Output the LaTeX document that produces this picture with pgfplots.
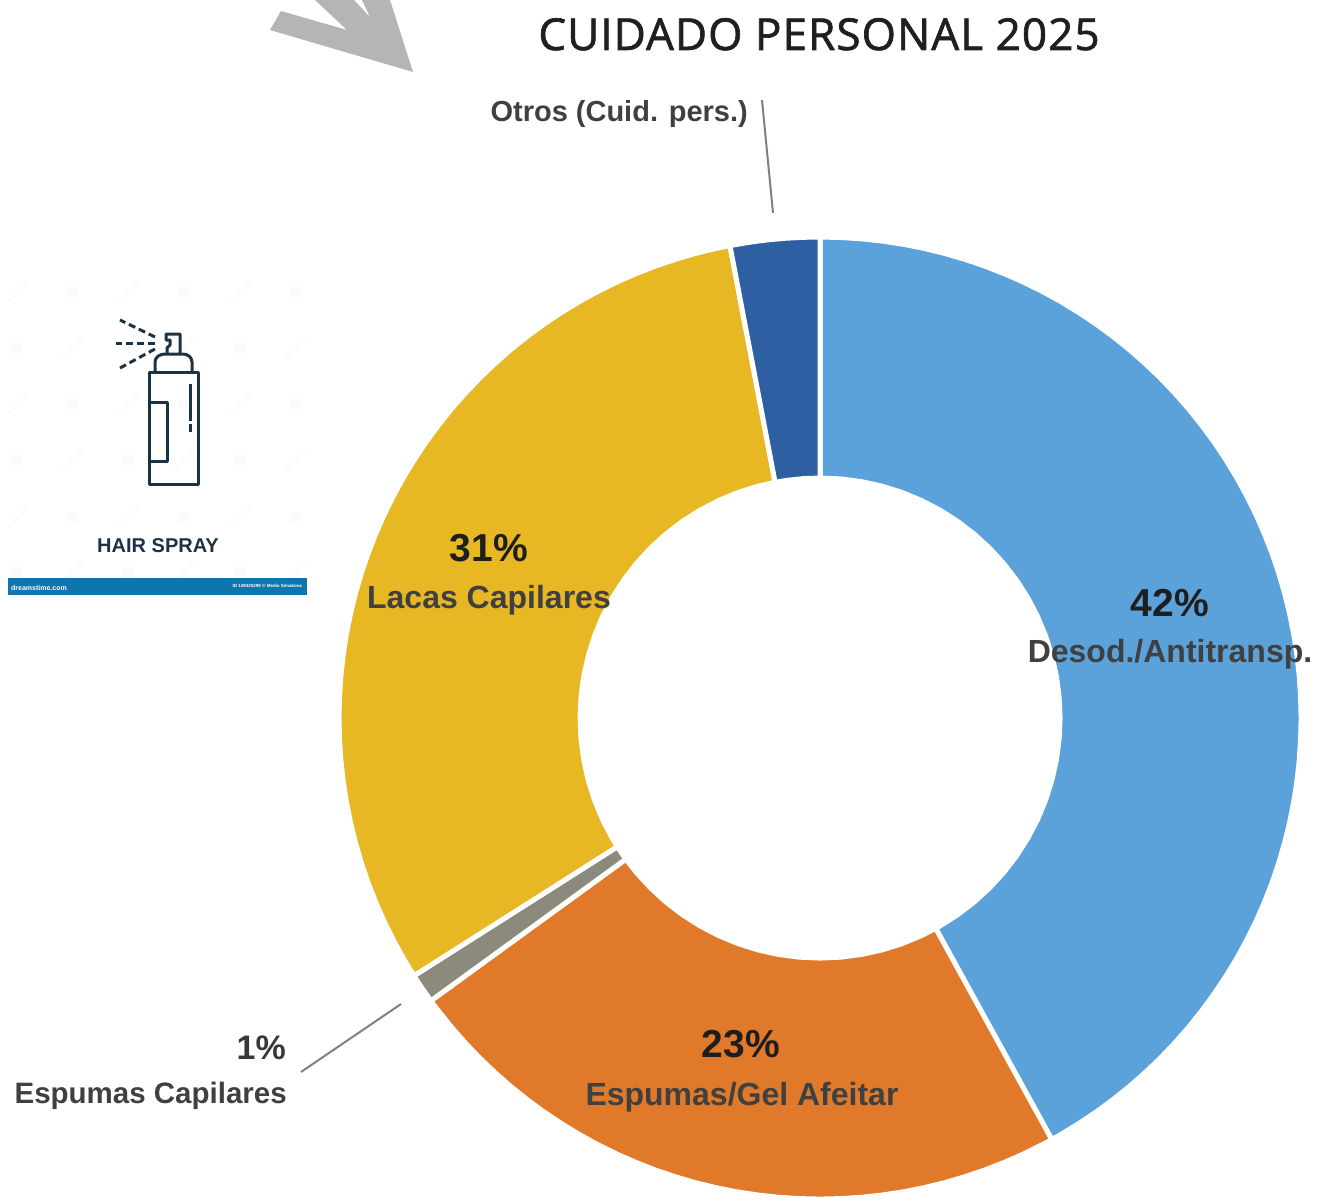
\documentclass[border=0pt]{standalone}
\usepackage{fontspec}
\setmainfont{Liberation Sans}
\newfontfamily\titlefont[LetterSpace=2.5,FakeBold=1.5]{Open Sans}
\usepackage{pgfplots}
\pgfplotsset{compat=1.18}

\definecolor{cDesod}{HTML}{5BA2DA}
\definecolor{cAfeitar}{HTML}{E07A2A}
\definecolor{cEspumas}{HTML}{8B8A7D}
\definecolor{cLacas}{HTML}{E7B724}
\definecolor{cOtros}{HTML}{2D5FA2}
\definecolor{cPct}{HTML}{1E1E1E}
\definecolor{cLab}{HTML}{404040}
\definecolor{cIcon}{HTML}{1C3346}
\definecolor{cBar}{HTML}{0F75AD}

% slices: (angle, radius), clockwise from 90 deg
% 42, 23, 1, 31, 3 per cent
\newcommand{\lab}[5]{\node[anchor=#1,inner sep=0pt,text=#5,font=\fontsize{#4}{#4}\selectfont\bfseries] at (#2) {#3};}

\begin{document}
\begin{tikzpicture}
\path (0pt,0pt) rectangle (1325pt,-1199pt);
\begin{axis}[
    at={(0pt,0pt)}, anchor=north west,
    scale only axis,
    width=1325pt, height=1199pt,
    xmin=-820, xmax=505,
    ymin=-481, ymax=718,
    hide axis,
    clip=false,
    data cs=polar,
    every axis plot/.append style={draw=white, line width=5pt, line join=miter},
]
% Desod./Antitransp. 42
\addplot[fill=cDesod] coordinates {
(90,481)(87.5,481)(85,481)(82.5,481)(80,481)(77.5,481)(75,481)(72.5,481)(70,481)(67.5,481)(65,481)(62.5,481)
(60,481)(57.5,481)(55,481)(52.5,481)(50,481)(47.5,481)(45,481)(42.5,481)(40,481)(37.5,481)(35,481)(32.5,481)
(30,481)(27.5,481)(25,481)(22.5,481)(20,481)(17.5,481)(15,481)(12.5,481)(10,481)(7.5,481)(5,481)(2.5,481)
(0,481)(-2.5,481)(-5,481)(-7.5,481)(-10,481)(-12.5,481)(-15,481)(-17.5,481)(-20,481)(-22.5,481)(-25,481)
(-27.5,481)(-30,481)(-32.5,481)(-35,481)(-37.5,481)(-40,481)(-42.5,481)(-45,481)(-47.5,481)(-50,481)
(-52.5,481)(-55,481)(-57.5,481)(-60,481)(-61.2,481)
(-61.2,240)(-60,240)(-55,240)(-50,240)(-45,240)(-40,240)(-35,240)(-30,240)(-25,240)
(-20,240)(-15,240)(-10,240)(-5,240)(0,240)(5,240)(10,240)(15,240)(20,240)(25,240)
(30,240)(35,240)(40,240)(45,240)(50,240)(55,240)(60,240)(65,240)(70,240)(75,240)
(80,240)(85,240)(90,240)
} -- cycle;
% Espumas/Gel Afeitar 23
\addplot[fill=cAfeitar] coordinates {
(-61.2,481)(-62.5,481)(-65,481)(-67.5,481)(-70,481)(-72.5,481)(-75,481)(-77.5,481)(-80,481)(-82.5,481)(-85,481)
(-87.5,481)(-90,481)(-92.5,481)(-95,481)(-97.5,481)(-100,481)(-102.5,481)(-105,481)(-107.5,481)(-110,481)
(-112.5,481)(-115,481)(-117.5,481)(-120,481)(-122.5,481)(-125,481)(-127.5,481)(-130,481)(-132.5,481)
(-135,481)(-137.5,481)(-140,481)(-142.5,481)(-144,481)
(-144,240)(-140,240)(-135,240)(-130,240)(-125,240)(-120,240)(-115,240)(-110,240)(-105,240)
(-100,240)(-95,240)(-90,240)(-85,240)(-80,240)(-75,240)(-70,240)(-65,240)(-61.2,240)
} -- cycle;
% Espumas Capilares 1
\addplot[fill=cEspumas] coordinates {
(-144,481)(-146,481)(-147.6,481)
(-147.6,240)(-146,240)(-144,240)
} -- cycle;
% Lacas Capilares 31
\addplot[fill=cLacas] coordinates {
(-147.6,481)(-150,481)(-152.5,481)(-155,481)(-157.5,481)(-160,481)(-162.5,481)(-165,481)(-167.5,481)(-170,481)
(-172.5,481)(-175,481)(-177.5,481)(-180,481)(-182.5,481)(-185,481)(-187.5,481)(-190,481)(-192.5,481)(-195,481)
(-197.5,481)(-200,481)(-202.5,481)(-205,481)(-207.5,481)(-210,481)(-212.5,481)(-215,481)(-217.5,481)(-220,481)
(-222.5,481)(-225,481)(-227.5,481)(-230,481)(-232.5,481)(-235,481)(-237.5,481)(-240,481)(-242.5,481)(-245,481)
(-247.5,481)(-250,481)(-252.5,481)(-255,481)(-257.5,481)(-259.2,481)
(-259.2,240)(-255,240)(-250,240)(-245,240)(-240,240)(-235,240)(-230,240)(-225,240)(-220,240)
(-215,240)(-210,240)(-205,240)(-200,240)(-195,240)(-190,240)(-185,240)(-180,240)(-175,240)
(-170,240)(-165,240)(-160,240)(-155,240)(-150,240)(-147.6,240)
} -- cycle;
% Otros 3
\addplot[fill=cOtros] coordinates {
(-259.2,481)(-262,481)(-264,481)(-266,481)(-268,481)(-270,481)
(-270,240)(-266,240)(-262,240)(-259.2,240)
} -- cycle;
\end{axis}

\begin{scope}[x=1pt,y=-1pt]
% watermark of the stock picture
\foreach \yy in {292,404,517}{
  \foreach \xx in {18,129,241}{\draw[black!2,line width=2pt] (\xx-10,\yy+10)--(\xx+10,\yy-10);}
  \foreach \xx in {73,183,295}{\fill[black!1.5] (\xx,\yy) circle (6);}
}
\foreach \yy in {348,460,572}{
  \foreach \xx in {73,184,295}{\draw[black!2,line width=2pt] (\xx-10,\yy+10)--(\xx+10,\yy-10);}
  \foreach \xx in {17,128,240}{\fill[black!1.5] (\xx,\yy) circle (6);}
}
% arrow cut by the top edge
\fill[black!29] (270,30)--(281,11)--(347,30)--(315,0)--(354,0)--(370,17)--(362,0)--(390,0)--(413,72)--cycle;
% spray can
\begin{scope}[draw=cIcon,line width=3pt,line join=round]
\draw (149,372) rectangle (198,484);
\draw (149,402)--(167,402)--(167,461)--(149,461);
\draw (190,384)--(190,421) (190,424)--(190,432);
\draw (155,372)--(155,362) to[out=90,in=180] (165,354)--(183,354) to[out=0,in=90] (192,362)--(192,372);
\draw (167,354)--(167,348)--(170,345)--(170,340)--(166,340)--(166,334)--(180,334)--(180,354);
\draw[dash pattern=on 7pt off 4pt] (155,337)--(120,320);
\draw[dash pattern=on 7pt off 4pt] (155,343)--(116,343);
\draw[dash pattern=on 7pt off 4pt] (155,349)--(120,368);
\end{scope}
\lab{base}{158,552}{HAIR SPRAY}{20}{cIcon}
\fill[cBar] (8,578) rectangle (307,595);
\node[anchor=west,inner sep=0pt,text=white,font=\fontsize{7}{7}\selectfont\bfseries] at (11,588) {dreamstime.com};
\node[anchor=east,inner sep=0pt,text=white,font=\fontsize{4.5}{4.5}\selectfont\bfseries] at (302,586) {ID 149320299 © Media Simakova};
% title and data labels
\node[anchor=base,inner sep=0pt,text=black!88,font=\fontsize{44}{44}\selectfont\titlefont] at (819,50) {CUIDADO PERSONAL 2025};
\lab{base east}{748,122}{Otros (Cuid. pers.)}{29}{cLab}
\draw[black!50,line width=2pt] (762,100)--(773,213);
\lab{base}{489,561}{31\%}{39}{cPct}
\lab{base}{489,608}{Lacas Capilares}{32}{cLab}
\lab{base}{1170,616}{42\%}{39}{cPct}
\lab{base}{1170,662}{Desod./Antitransp.}{32}{cLab}
\lab{base}{741,1057}{23\%}{39}{cPct}
\lab{base}{742,1105}{Espumas/Gel Afeitar}{32}{cLab}
\lab{base east}{286,1059}{1\%}{34}{black!78}
\lab{base east}{287,1103}{Espumas Capilares}{29.5}{cLab}
\draw[black!50,line width=2pt] (301,1072)--(401,1004);
\end{scope}
\end{tikzpicture}
\end{document}
